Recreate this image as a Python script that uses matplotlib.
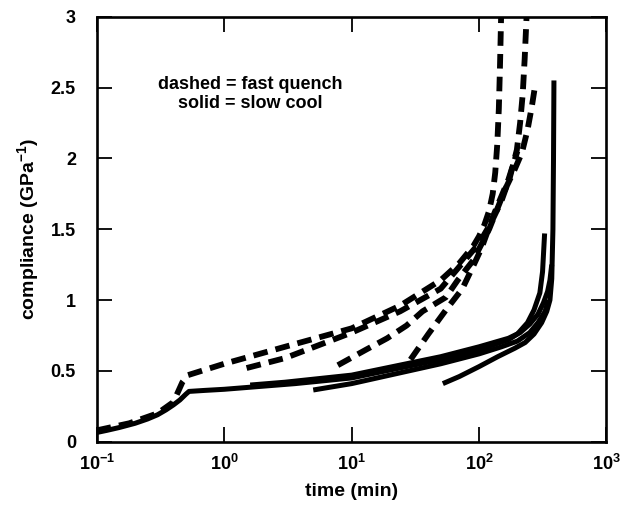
import numpy as np
import matplotlib
matplotlib.use("Agg")
import matplotlib.pyplot as plt
from matplotlib.ticker import FixedLocator, NullLocator

plt.rcParams["font.family"] = ["Liberation Sans", "DejaVu Sans"]
plt.rcParams["font.weight"] = "bold"
plt.rcParams["mathtext.fontset"] = "custom"
plt.rcParams["mathtext.rm"] = "Liberation Sans:bold"
plt.rcParams["mathtext.bf"] = "Liberation Sans:bold"
plt.rcParams["mathtext.it"] = "Liberation Sans:bold"

# ── data: time (min) and compliance (1/GPa) ──────────────────────────────────
# slow cool (solid)
s1_t = [0.1, 0.12, 0.15, 0.2, 0.25, 0.3, 0.35, 0.4, 0.45, 0.5, 0.53, 0.7, 1.0, 3.6,
        10, 50, 100, 170, 200, 240, 270, 300, 315, 327]
s1_c = [0.065, 0.08, 0.10, 0.13, 0.16, 0.19, 0.225, 0.26, 0.295, 0.335, 0.355, 0.362, 0.37, 0.41,
        0.45, 0.58, 0.65, 0.72, 0.76, 0.84, 0.93, 1.05, 1.2, 1.47]
s2_t = [1.6, 3.0, 10, 50, 100, 170, 210, 250, 290, 320, 345, 360, 372]
s2_c = [0.40, 0.42, 0.47, 0.60, 0.67, 0.73, 0.77, 0.83, 0.90, 0.98, 1.06, 1.14, 1.25]
s3_t = [5.0, 10, 50, 100, 150, 200, 250, 290, 330, 350]
s3_c = [0.365, 0.41, 0.55, 0.62, 0.67, 0.71, 0.77, 0.84, 0.92, 1.0]
s4_t = [52, 70, 100, 140, 191, 230, 270, 310, 340, 360, 372, 380, 384, 387]
s4_c = [0.41, 0.46, 0.53, 0.60, 0.66, 0.70, 0.76, 0.84, 0.92, 1.0, 1.15, 1.5, 2.0, 2.55]

# fast quench (dashed)
d1_t = [0.1, 0.18, 0.3, 0.4, 0.47, 0.52, 1.0, 3.0, 10, 24, 50, 70, 90, 100, 110, 120,
        128, 134, 139, 143, 146, 149]
d1_c = [0.08, 0.13, 0.2, 0.28, 0.42, 0.47, 0.55, 0.67, 0.80, 0.96, 1.14, 1.26, 1.38, 1.45, 1.53, 1.63,
        1.75, 1.9, 2.1, 2.35, 2.65, 3.0]
d2_t = [1.5, 3.0, 10, 24, 50, 100, 125, 150, 175, 198, 210, 220, 228, 236]
d2_c = [0.52, 0.59, 0.77, 0.92, 1.08, 1.40, 1.55, 1.70, 1.87, 2.06, 2.25, 2.45, 2.7, 3.0]
d3_t = [7.8, 13, 19, 27, 36, 55, 68, 90, 120, 160, 190, 217, 240, 260, 275]
d3_c = [0.54, 0.65, 0.73, 0.82, 0.92, 1.02, 1.14, 1.28, 1.5, 1.78, 1.92, 2.04, 2.2, 2.37, 2.51]
d4_t = [29, 40, 55, 74, 90, 105, 130, 170, 200]
d4_c = [0.58, 0.76, 0.93, 1.08, 1.24, 1.37, 1.6, 1.85, 2.05]

solid = [(s1_t, s1_c), (s2_t, s2_c), (s3_t, s3_c), (s4_t, s4_c)]
dashed = [(d1_t, d1_c), (d2_t, d2_c), (d3_t, d3_c), (d4_t, d4_c)]

xticks = [0.1, 1, 10, 100, 1000]
yticks = [0, 0.5, 1, 1.5, 2, 2.5, 3]
ytick_labels = ["0", "0.5", "1", "1.5", "2", "2.5", "3"]

# ── plot ─────────────────────────────────────────────────────────────────────
fig = plt.figure(figsize=(6.38, 5.09), dpi=100)
ax = fig.add_axes([0.1516, 0.1322, 0.7990, 0.8350])

for t, c in solid:
    ax.plot(t, c, color="black", lw=3.6, solid_capstyle="butt", solid_joinstyle="round")
for t, c in dashed:
    ax.plot(t, c, color="black", lw=4.2, linestyle=(0, (2.5, 1.4)),
            dash_joinstyle="round")

ax.set_xscale("log")
ax.set_xlim(0.1, 1000)
ax.set_ylim(0, 3)
ax.xaxis.set_major_locator(FixedLocator(xticks))
ax.xaxis.set_minor_locator(NullLocator())
ax.set_yticks(yticks)
ax.set_yticklabels(ytick_labels)

ax.tick_params(which="major", direction="in", length=11, width=1.3,
               top=True, right=True, labelsize=13)
ax.tick_params(axis="y", pad=15)
ax.tick_params(axis="x", pad=9)
for s in ax.spines.values():
    s.set_linewidth(1.9)

ax.set_xlabel("time (min)", fontsize=14, fontweight="bold", labelpad=6)
ax.set_ylabel("compliance (GPa$^{-1}$)", fontsize=14, fontweight="bold", labelpad=7)

ax.text(0.302, 0.819, "dashed = fast quench\nsolid = slow cool",
        transform=ax.transAxes, ha="center", va="center",
        fontsize=13, fontweight="bold", linespacing=1.15)

fig.savefig("out.png", dpi=100)
